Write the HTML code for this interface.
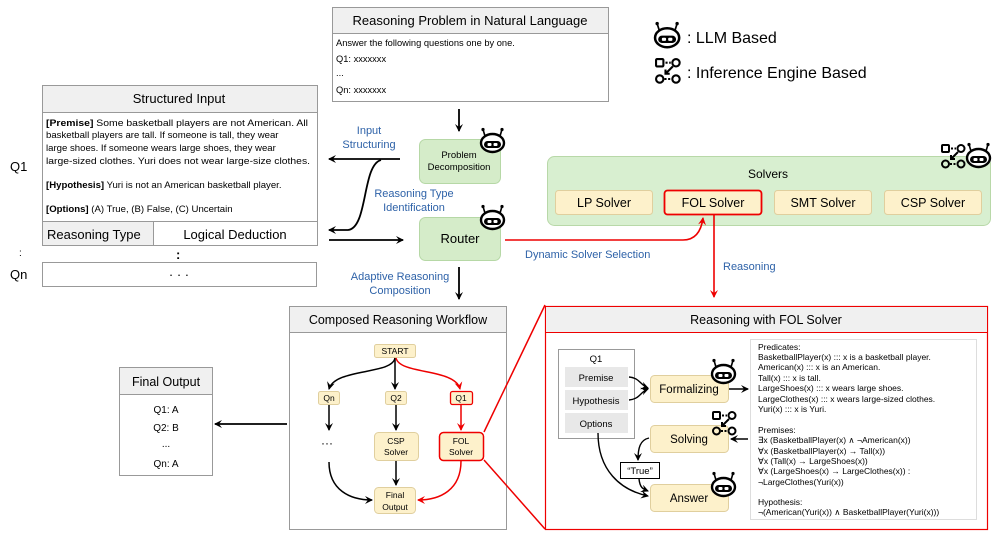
<!DOCTYPE html>
<html><head><meta charset="utf-8"><style>
html,body{margin:0;padding:0;background:#fff;}
svg{display:block;font-family:"Liberation Sans",Arial,sans-serif;}
.b{fill:#2e62a8;font-size:11px;}
</style></head><body>
<svg width="996" height="539" viewBox="0 0 996 539" xmlns="http://www.w3.org/2000/svg">
<defs>
<marker id="ak" markerWidth="8" markerHeight="8" refX="7" refY="4" orient="auto" markerUnits="userSpaceOnUse"><path d="M0,0 L8,4 L0,8 L3,4 z" fill="#000"/></marker>
<marker id="ar" markerWidth="8" markerHeight="8" refX="7" refY="4" orient="auto" markerUnits="userSpaceOnUse"><path d="M0,0 L8,4 L0,8 L3,4 z" fill="#e00"/></marker>
<g id="bot">
<line x1="5" y1="8" x2="3" y2="1.5" stroke="#000" stroke-width="1.6"/><circle cx="3" cy="1.5" r="1.6"/>
<line x1="20" y1="8" x2="22" y2="1.5" stroke="#000" stroke-width="1.6"/><circle cx="22" cy="1.5" r="1.6"/>
<ellipse cx="12.5" cy="15" rx="11.5" ry="9" fill="#fff" stroke="#000" stroke-width="2.4"/>
<rect x="4" y="13" width="17" height="7" rx="3.5" fill="#000"/>
<rect x="7.5" y="15" width="4" height="3" fill="#fff" rx="1"/><rect x="13.5" y="15" width="4" height="3" fill="#fff" rx="1"/>
</g>
<g id="inf" fill="none" stroke="#000" stroke-width="2">
<rect x="1" y="1" width="7" height="7" rx="1"/><circle cx="20" cy="4.5" r="3.5"/>
<circle cx="4.5" cy="20" r="3.5"/><circle cx="20" cy="20" r="3.5"/>
<line x1="10" y1="4.5" x2="15" y2="4.5" stroke-dasharray="2,1.5"/><line x1="9" y1="20" x2="15" y2="20" stroke-dasharray="2,1.5"/>
<path d="M17,8 L10,15 M10,11 L10,15 L14,15"/>
</g>
</defs>

<!-- Reasoning problem -->
<rect x="332.5" y="7.5" width="276" height="94" fill="#fff" stroke="#999"/>
<rect x="333" y="8" width="275" height="25" fill="#f0f0f0"/>
<line x1="333" y1="33.5" x2="608" y2="33.5" stroke="#999"/>
<text x="470" y="25" font-size="13" text-anchor="middle">Reasoning Problem in Natural Language</text>
<g font-size="9.3"><text x="336" y="46">Answer the following questions one by one.</text>
<text x="336" y="62">Q1: xxxxxxx</text><text x="336" y="76">...</text><text x="336" y="93">Qn: xxxxxxx</text></g>

<!-- legend -->
<g transform="translate(654,22) scale(1.05)"><use href="#bot"/></g>
<text x="687" y="43" font-size="16">: LLM Based</text>
<g transform="translate(655,58) scale(1.05)"><use href="#inf"/></g>
<text x="687" y="78" font-size="16">: Inference Engine Based</text>

<!-- Structured input -->
<rect x="42.5" y="85.5" width="275" height="160" fill="#fff" stroke="#999"/>
<rect x="43" y="86" width="274" height="26" fill="#f0f0f0"/>
<line x1="43" y1="112.5" x2="317" y2="112.5" stroke="#999"/>
<text x="179" y="103" font-size="13" text-anchor="middle">Structured Input</text>
<g font-size="9.6">
<text x="46" y="126" textLength="262" lengthAdjust="spacingAndGlyphs"><tspan font-weight="bold">[Premise]</tspan> Some basketball players are not American. All</text>
<text x="46" y="138">basketball players are tall. If someone is tall, they wear</text>
<text x="46" y="151">large shoes. If someone wears large shoes, they wear</text>
<text x="46" y="164" textLength="264" lengthAdjust="spacingAndGlyphs">large-sized clothes. Yuri does not wear large-size clothes.</text>
<text x="46" y="188"><tspan font-weight="bold">[Hypothesis]</tspan> Yuri is not an American basketball player.</text>
<text x="46" y="212"><tspan font-weight="bold">[Options]</tspan> (A) True, (B) False, (C) Uncertain</text>
</g>
<line x1="43" y1="221.5" x2="317" y2="221.5" stroke="#999"/>
<rect x="43" y="222" width="110" height="23" fill="#f0f0f0"/>
<line x1="153.5" y1="222" x2="153.5" y2="245" stroke="#999"/>
<text x="47" y="239" font-size="13">Reasoning Type</text>
<text x="235" y="239" font-size="13" text-anchor="middle">Logical Deduction</text>
<text x="10" y="171" font-size="13">Q1</text>
<text x="19" y="256" font-size="10">:</text>
<text x="176" y="259" font-size="13" font-weight="bold">:</text>
<text x="10" y="279" font-size="13">Qn</text>
<rect x="42.5" y="262.5" width="274" height="24" fill="#fff" stroke="#999"/>
<text x="179" y="279" font-size="13" text-anchor="middle">· · ·</text>

<!-- arrows mid -->
<path d="M400,159 L329,159" stroke="#000" stroke-width="1.8" fill="none" marker-end="url(#ak)"/>
<path d="M381,160 C362,165 368,228 348,230 L329,230" stroke="#000" stroke-width="1.8" fill="none" marker-end="url(#ak)"/>
<path d="M329,240 L403,240" stroke="#000" stroke-width="1.8" fill="none" marker-end="url(#ak)"/>
<text class="b" x="369" y="134" text-anchor="middle">Input</text>
<text class="b" x="369" y="148" text-anchor="middle">Structuring</text>
<text class="b" x="414" y="197" text-anchor="middle">Reasoning Type</text>
<text class="b" x="414" y="211" text-anchor="middle">Identification</text>
<text class="b" x="400" y="280" text-anchor="middle">Adaptive Reasoning</text>
<text class="b" x="400" y="294" text-anchor="middle">Composition</text>
<path d="M459,109 L459,131" stroke="#000" stroke-width="1.8" marker-end="url(#ak)"/>
<path d="M459,267 L459,299" stroke="#000" stroke-width="1.8" marker-end="url(#ak)"/>

<rect x="419.5" y="139.5" width="81" height="44" rx="6" fill="#d5ecc9" stroke="#b6d8a6"/>
<text x="459" y="158" font-size="9.5" text-anchor="middle">Problem</text>
<text x="459" y="170" font-size="9.5" text-anchor="middle">Decomposition</text>
<use href="#bot" x="480" y="128"/>
<rect x="419.5" y="217.5" width="81" height="43" rx="6" fill="#d5ecc9" stroke="#b6d8a6"/>
<text x="460" y="243" font-size="13" text-anchor="middle">Router</text>
<use href="#bot" x="480" y="205"/>

<!-- solvers -->
<rect x="547.5" y="156.5" width="443" height="69" rx="7" fill="#d8efd0" stroke="#b8d8a8"/>
<text x="768" y="178" font-size="12" text-anchor="middle">Solvers</text>
<use href="#inf" x="941" y="144"/><use href="#bot" x="966" y="143"/>
<g font-size="12.5" text-anchor="middle">
<rect x="555.5" y="190.5" width="97" height="24" rx="3" fill="#fdf1cb" stroke="#e0cf9e"/><text x="604" y="207">LP Solver</text>
<rect x="664.5" y="190.5" width="97" height="24" rx="3" fill="#fdf1cb" stroke="#e00" stroke-width="1.8"/><text x="713" y="207">FOL Solver</text>
<rect x="774.5" y="190.5" width="97" height="24" rx="3" fill="#fdf1cb" stroke="#e0cf9e"/><text x="823" y="207">SMT Solver</text>
<rect x="884.5" y="190.5" width="97" height="24" rx="3" fill="#fdf1cb" stroke="#e0cf9e"/><text x="933" y="207">CSP Solver</text>
</g>
<path d="M505,240 L683,240 Q700,240 703,218" stroke="#e00" stroke-width="1.6" fill="none" marker-end="url(#ar)"/>
<text class="b" x="525" y="258">Dynamic Solver Selection</text>
<path d="M714,215 L714,297" stroke="#e00" stroke-width="1.6" marker-end="url(#ar)"/>
<text class="b" x="723" y="270">Reasoning</text>

<!-- Composed workflow -->
<rect x="289.5" y="306.5" width="217" height="223" fill="#fff" stroke="#999"/>
<rect x="290" y="307" width="216" height="25" fill="#f0f0f0"/>
<line x1="290" y1="332.5" x2="506" y2="332.5" stroke="#999"/>
<text x="398" y="324" font-size="12.5" text-anchor="middle">Composed Reasoning Workflow</text>
<g font-size="8.5" text-anchor="middle">
<rect x="374.5" y="344.5" width="41" height="13" rx="2" fill="#fdf1cb" stroke="#e0cf9e"/><text x="395" y="354">START</text>
<rect x="318.5" y="391.5" width="21" height="13" rx="2" fill="#fdf1cb" stroke="#e0cf9e"/><text x="329" y="401">Qn</text>
<rect x="385.5" y="391.5" width="21" height="13" rx="2" fill="#fdf1cb" stroke="#e0cf9e"/><text x="396" y="401">Q2</text>
<rect x="450.5" y="391.5" width="22" height="13" rx="2" fill="#fdf1cb" stroke="#e00" stroke-width="1.3"/><text x="461" y="401">Q1</text>
<rect x="374.5" y="432.5" width="44" height="28" rx="4" fill="#fdf1cb" stroke="#e0cf9e"/><text x="396" y="444">CSP</text><text x="396" y="455">Solver</text>
<rect x="439.5" y="432.5" width="44" height="28" rx="4" fill="#fdf1cb" stroke="#e00" stroke-width="1.5"/><text x="461" y="444">FOL</text><text x="461" y="455">Solver</text>
<rect x="374.5" y="487.5" width="41" height="26" rx="4" fill="#fdf1cb" stroke="#e0cf9e"/><text x="395" y="498">Final</text><text x="395" y="510">Output</text>
</g>
<text x="327" y="447" font-size="12" text-anchor="middle">···</text>
<g stroke="#000" stroke-width="1.5" fill="none">
<path d="M395,358 C392,375 335,368 329,389" marker-end="url(#ak)"/>
<path d="M395,358 L395,389" marker-end="url(#ak)"/>
<path d="M396,405 L396,430" marker-end="url(#ak)"/>
<path d="M329,405 L329,430" marker-end="url(#ak)"/>
<path d="M396,461 L396,485" marker-end="url(#ak)"/>
<path d="M329,462 C329,490 350,500 372,500" marker-end="url(#ak)"/>
</g>
<g stroke="#e00" stroke-width="1.5" fill="none">
<path d="M396,358 C400,375 455,368 460,389" marker-end="url(#ar)"/>
<path d="M461,405 L461,430" marker-end="url(#ar)"/>
<path d="M461,461 C461,490 440,500 418,500" marker-end="url(#ar)"/>
<line x1="484" y1="432" x2="545" y2="305"/>
<line x1="484" y1="460" x2="545" y2="529"/>
</g>
<path d="M287,424 L215,424" stroke="#000" stroke-width="1.8" marker-end="url(#ak)"/>

<!-- final output -->
<rect x="119.5" y="367.5" width="93" height="108" fill="#fff" stroke="#999"/>
<rect x="120" y="368" width="92" height="26" fill="#f0f0f0"/>
<line x1="120" y1="394.5" x2="212" y2="394.5" stroke="#999"/>
<text x="166" y="386" font-size="12.5" text-anchor="middle">Final Output</text>
<g font-size="10" text-anchor="middle"><text x="166" y="413">Q1: A</text><text x="166" y="431">Q2: B</text><text x="166" y="447">...</text><text x="166" y="467">Qn: A</text></g>

<!-- Reasoning with FOL -->
<rect x="545.5" y="306.5" width="442" height="223" fill="#fff" stroke="#e00" stroke-width="1.2"/>
<rect x="546" y="307" width="441" height="25" fill="#f0f0f0"/>
<line x1="546" y1="332.5" x2="987" y2="332.5" stroke="#e00"/>
<text x="766" y="324" font-size="12.5" text-anchor="middle">Reasoning with FOL Solver</text>
<rect x="558.5" y="349.5" width="76" height="89" fill="#fff" stroke="#999"/>
<text x="596" y="362" font-size="9.5" text-anchor="middle">Q1</text>
<g font-size="9.5" text-anchor="middle">
<rect x="565" y="367" width="63" height="20" fill="#e8e8e8"/><text x="596" y="381">Premise</text>
<rect x="565" y="390" width="63" height="20" fill="#e8e8e8"/><text x="596" y="404">Hypothesis</text>
<rect x="565" y="413" width="63" height="20" fill="#e8e8e8"/><text x="596" y="427">Options</text>
</g>
<g font-size="11.5" text-anchor="middle">
<rect x="650.5" y="375.5" width="78" height="27" rx="4" fill="#fdf1cb" stroke="#e0cf9e"/><text x="689" y="393">Formalizing</text>
<rect x="650.5" y="425.5" width="78" height="27" rx="4" fill="#fdf1cb" stroke="#e0cf9e"/><text x="689" y="443">Solving</text>
<rect x="650.5" y="484.5" width="78" height="27" rx="4" fill="#fdf1cb" stroke="#e0cf9e"/><text x="689" y="502">Answer</text>
</g>
<use href="#bot" x="711" y="359"/><use href="#inf" x="712" y="411"/><use href="#bot" x="711" y="472"/>
<rect x="620.5" y="462.5" width="39" height="16" fill="#fff" stroke="#000"/>
<text x="640" y="474" font-size="9.5" text-anchor="middle">“True”</text>
<g stroke="#000" stroke-width="1.4" fill="none">
<path d="M629,377 C640,378 640,385 648,388" marker-end="url(#ak)"/>
<path d="M629,400 C640,399 640,392 648,389" marker-end="url(#ak)"/>
<path d="M729,389 L748,389" marker-end="url(#ak)"/>
<path d="M748,439 L731,439" marker-end="url(#ak)"/>
<path d="M649,438 C640,440 638,448 638,460" marker-end="url(#ak)"/>
<path d="M639,479 C640,488 643,489 648,491" marker-end="url(#ak)"/>
<path d="M598,433 C598,470 620,490 648,496" marker-end="url(#ak)"/>
</g>
<rect x="750.5" y="339.5" width="226" height="180" fill="#fff" stroke="#ddd"/>
<g font-size="8.5">
<text x="758" y="350">Predicates:</text>
<text x="758" y="360">BasketballPlayer(x) ::: x is a basketball player.</text>
<text x="758" y="370">American(x) ::: x is an American.</text>
<text x="758" y="381">Tall(x) ::: x is tall.</text>
<text x="758" y="391">LargeShoes(x) ::: x wears large shoes.</text>
<text x="758" y="402">LargeClothes(x) ::: x wears large-sized clothes.</text>
<text x="758" y="412">Yuri(x) ::: x is Yuri.</text>
<text x="758" y="433">Premises:</text>
<text x="758" y="443">∃x (BasketballPlayer(x) ∧ ¬American(x))</text>
<text x="758" y="454">∀x (BasketballPlayer(x) → Tall(x))</text>
<text x="758" y="464">∀x (Tall(x) → LargeShoes(x))</text>
<text x="758" y="474">∀x (LargeShoes(x) → LargeClothes(x)) :</text>
<text x="758" y="485">¬LargeClothes(Yuri(x))</text>
<text x="758" y="505">Hypothesis:</text>
<text x="758" y="515">¬(American(Yuri(x)) ∧ BasketballPlayer(Yuri(x)))</text>
</g>
</svg>
</body></html>
